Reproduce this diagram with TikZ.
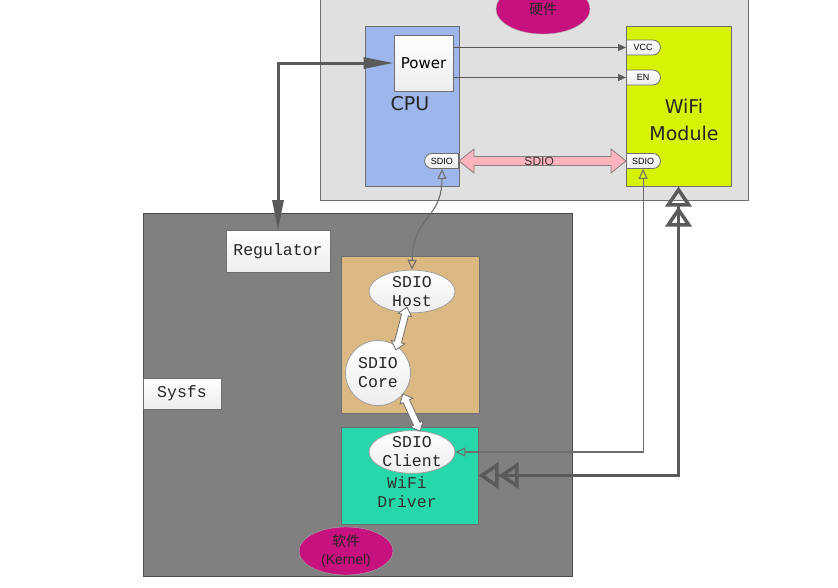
\documentclass[tikz,border=0pt]{standalone}
\usepackage{fontspec}
\setmainfont{Liberation Sans}
\newfontfamily\monof{Liberation Mono}
\newfontfamily\dvf{DejaVu Sans}
\newfontfamily\cjkf{Noto Sans CJK SC}
\usetikzlibrary{arrows.meta,shapes.geometric,shapes.misc,fit,calc}
\definecolor{hwbg}{HTML}{E0E0E0}
\definecolor{kbg}{HTML}{808080}
\definecolor{cpuc}{HTML}{9DB7EC}
\definecolor{wific}{HTML}{D6F205}
\definecolor{orangec}{HTML}{DCB882}
\definecolor{greenc}{HTML}{26D7AA}
\definecolor{magc}{HTML}{C6117F}
\definecolor{pinkc}{HTML}{FFB3BD}
\definecolor{edgec}{HTML}{6E6E6E}
\definecolor{linec}{HTML}{5A5A5A}
\begin{document}
\begin{tikzpicture}[x=1pt,y=-1pt,
  area/.style={draw=edgec, line width=1pt, inner sep=0pt},
  whitebox/.style={draw=edgec, line width=0.8pt, top color=white, bottom color=gray!14, inner sep=0pt},
  monotext/.style={font=\monof\fontsize{16.5}{19}\selectfont, text=black!85, align=center},
  tagbox/.style={rounded rectangle, draw=edgec, line width=0.8pt, top color=white, bottom color=gray!16,
     minimum width=34pt, minimum height=15pt, inner sep=0pt, font=\fontsize{9}{10}\selectfont},
  ellnode/.style={ellipse, draw=gray!75, line width=0.8pt, top color=white, bottom color=gray!14, inner sep=0pt, monotext},
  thinline/.style={draw=edgec, line width=1.1pt},
  openend/.style={{Triangle[open,length=10pt,width=9pt]}-{Triangle[open,length=10pt,width=9pt]}},
  wdbl/.pic={\path[draw=edgec, fill=white, line width=0.8pt]
     (-#1/2,0) -- ++(8,-7) -- ++(0,3.5) -- (#1/2-8,-3.5) -- ++(0,-3.5) -- (#1/2,0)
     -- ++(-8,7) -- ++(0,-3.5) -- (-#1/2+8,3.5) -- ++(0,3.5) -- cycle;}
]
\useasboundingbox (0,0) rectangle (838,587);

% hardware area
\node[area, fill=hwbg, fit={(320,-5)(748,200)}] (hw) {};
\node[ellipse, draw=gray!70, fill=magc, minimum width=94pt, minimum height=50pt, inner sep=0pt,
      font=\cjkf\fontsize{14}{16}\selectfont, text=black!85] (hwlabel) at (543,9) {硬件};

% CPU
\node[area, fill=cpuc, fit={(365,26)(459,186)}] (cpu) {};
\node[whitebox, minimum width=59pt, minimum height=56pt, font=\dvf\fontsize{15}{18}\selectfont] (power) at (423.5,63) {Power};
\node[font=\dvf\fontsize{19}{22}\selectfont, text=black!85] (cputext) at (410,104) {CPU};
\node[tagbox, rounded rectangle right arc=none, anchor=east] (csdio) at (459,161) {SDIO};

% WiFi module
\node[area, fill=wific, fit={(626,26)(731,186)}] (wifi) {};
\node[font=\dvf\fontsize{19}{26.5}\selectfont, align=center, text=black!85] (wifitext) at (684,120) {WiFi\\Module};
\node[tagbox, rounded rectangle left arc=none, anchor=west] (vcc) at (626,47.5) {VCC};
\node[tagbox, rounded rectangle left arc=none, anchor=west] (en) at (626,77.5) {EN};
\node[tagbox, rounded rectangle left arc=none, anchor=west] (wsdio) at (626,161) {SDIO};

% kernel area
\node[area, draw=gray!60!black, fill=kbg, fit={(143,213)(572,576)}] (kernel) {};
\node[whitebox, minimum width=104pt, minimum height=42pt, monotext] (reg) at (278,251.5) {Regulator};
\node[whitebox, minimum width=78pt, minimum height=31pt, monotext] (sysfs) at (182,393.5) {Sysfs};
\node[area, fill=orangec, fit={(341,256)(479,413)}] (sdiobox) {};
\node[area, fill=greenc, fit={(341,427)(478,524)}] (green) {};
\node[ellnode, minimum width=86pt, minimum height=38pt] (host) at (412,291.5) {SDIO\\Host};
\node[ellnode, circle, minimum size=65pt] (core) at (378,373) {SDIO\\Core};
\node[ellnode, minimum width=86pt, minimum height=40pt] (client) at (412,452) {SDIO\\Client};
\node[monotext, text=black!80] (drvtext) at (407,492.5) {WiFi\\Driver};
\node[ellipse, draw=gray!70, fill=magc, minimum width=94pt, minimum height=48pt, inner sep=0pt,
      align=center, text=black!85, font=\fontsize{14}{18}\selectfont] (swlabel) at (346,551) {{\cjkf 软件}\\(Kernel)};

% power lines
\draw[draw=linec, line width=1.1pt, -{Triangle[length=8pt,width=7pt]}] (power.east |- vcc.west) -- (vcc.west);
\draw[draw=linec, line width=1.1pt, -{Triangle[length=8pt,width=7pt]}] (power.east |- en.west) -- (en.west);

% regulator <-> power
\draw[draw=linec, line width=3pt, {Triangle[length=30pt,width=11pt]}-{Triangle[length=30pt,width=11pt]}]
  (reg.north) |- (power.west);

% SDIO bus (pink)
\draw[draw=gray, line width=0.8pt, fill=pinkc]
  (csdio.east) -- ++(15,-12) -- ++(0,7.5) -- ($(wsdio.west)+(-15,-4.5)$) -- ++(0,-7.5) -- (wsdio.west)
  -- ++(-15,12) -- ++(0,-7.5) -- ($(csdio.east)+(15,4.5)$) -- ++(0,7.5) -- cycle;
\node[font=\fontsize{12}{14}\selectfont, text=black!80] (sdiolbl) at ($(csdio.east)!.48!(wsdio.west)$) {SDIO};

% host <-> cpu sdio
\draw[thinline, openend] (csdio.south) .. controls (442,220) and (413,215) .. (host.north);

% client <-> wifi sdio
\draw[thinline, openend] (client.east) -| (wsdio.south);

% driver <-> wifi module (thick)
\draw[draw=linec, line width=3.5pt,
  {Triangle[open,length=20pt,width=26pt]Triangle[open,length=20pt,width=26pt]}-{Triangle[open,length=20pt,width=26pt]Triangle[open,length=20pt,width=26pt]}]
  (green.east) -| (wifi.south);

% white double arrows
\coordinate (h1) at (407,307);
\coordinate (h2) at (396,350);
\coordinate (c1) at (403,394);
\coordinate (c2) at (420,431);
\path (h1) -- (h2) pic[pos=0.5, sloped] {wdbl=44};
\path (c1) -- (c2) pic[pos=0.5, sloped] {wdbl=41};
\end{tikzpicture}
\end{document}
